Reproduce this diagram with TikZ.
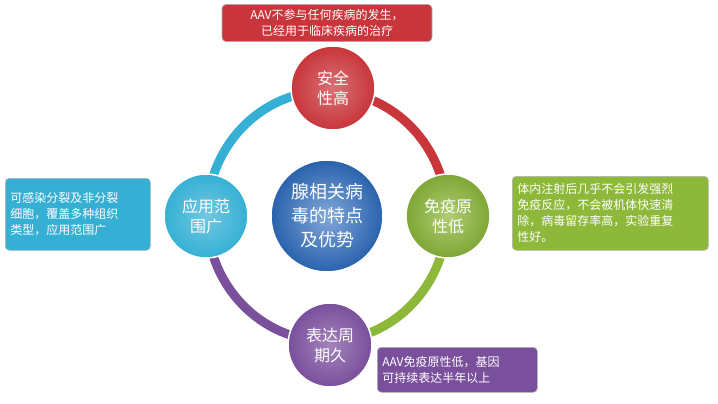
\documentclass[tikz,border=0pt]{standalone}
\usepackage{fontspec}
\setmainfont{Noto Sans CJK SC}
\definecolor{cred}{HTML}{C8353A}
\definecolor{cgreen}{HTML}{8DB83A}
\definecolor{cpurple}{HTML}{7A4F9C}
\definecolor{ccyan}{HTML}{35B0D4}
\definecolor{cblue}{HTML}{2E6DC0}
\begin{document}
\begin{tikzpicture}[x=1pt,y=-1pt,
  sat/.style={circle,minimum size=84pt,inner sep=0pt,text=white,font=\fontsize{16}{20}\selectfont,align=center,draw=white,line width=1.5pt},
  tbox/.style={rounded corners=4pt,text=white,font=\fontsize{12}{16}\selectfont,align=left,inner sep=5pt,anchor=north west,draw=white!70!black,line width=0.6pt}]
\useasboundingbox (0,0) rectangle (718,404);
\coordinate (c) at (327,216);
\draw[cred,line width=9pt] (327,91) arc[start angle=90,end angle=0,x radius=120,y radius=-125];
\draw[cgreen,line width=9pt] (447,216) arc[start angle=0,end angle=-90,x radius=120,y radius=-125];
\draw[cpurple,line width=9pt] (327,341) arc[start angle=270,end angle=180,x radius=120,y radius=-125];
\draw[ccyan,line width=9pt] (207,216) arc[start angle=180,end angle=90,x radius=120,y radius=-125];
\node[sat,minimum size=112pt,inner color=cblue!60,outer color=cblue!90!black,font=\fontsize{18}{24}\selectfont] (m) at (c) {腺相关病\\毒的特点\\及优势};
\node[sat,inner color=cred!70,outer color=cred] (t) at (333,88) {安全\\性高};
\node[sat,inner color=cgreen!70,outer color=cgreen!90!black] (r) at (448,216) {免疫原\\性低};
\node[sat,inner color=cpurple!70,outer color=cpurple] (b) at (330,345) {表达周\\期久};
\node[sat,inner color=ccyan!70,outer color=ccyan] (l) at (206,216) {应用范\\围广};
\node[tbox,fill=cred,minimum width=210pt,minimum height=37pt,align=center,anchor=center] (tb) at (327,23) {AAV不参与任何疾病的发生，\\已经用于临床疾病的治疗};
\node[tbox,fill=cgreen,text width=186pt,minimum height=74pt] (rb) at (512,176) {体内注射后几乎不会引发强烈\\免疫反应，不会被机体快速清\\除，病毒留存率高，实验重复\\性好。};
\node[tbox,fill=cpurple,text width=150pt,minimum height=45pt] (bb) at (377,347) {AAV免疫原性低，基因\\可持续表达半年以上};
\node[tbox,fill=ccyan,text width=135pt,minimum height=72pt] (lb) at (5,178) {可感染分裂及非分裂\\细胞，覆盖多种组织\\类型，应用范围广};
\end{tikzpicture}
\end{document}
